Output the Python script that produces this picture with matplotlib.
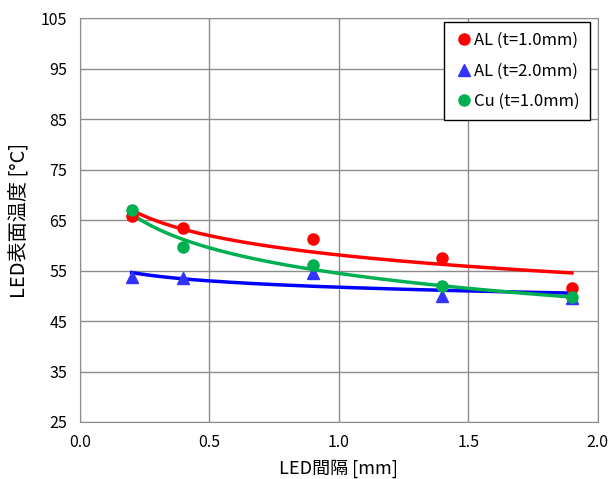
import numpy as np
import matplotlib
matplotlib.use('Agg')
import matplotlib.pyplot as plt

plt.rcParams['font.family'] = ['Noto Sans CJK JP', 'DejaVu Sans']

# LED間隔 [mm]
gap = [0.2, 0.4, 0.9, 1.4, 1.9]
# 表面温度 [°C]
al_10 = [65.8, 63.4, 61.3, 57.5, 51.6]
al_20 = [53.7, 53.6, 54.6, 50.0, 49.6]
cu_10 = [67.0, 59.6, 56.1, 51.9, 49.7]

series = [
    ('AL (t=1.0mm)', al_10, '#ff0000', 'o', '#ff0000'),
    ('AL (t=2.0mm)', al_20, '#3333ff', '^', '#0000ff'),
    ('Cu (t=1.0mm)', cu_10, '#00b050', 'o', '#00b050'),
]

fig = plt.figure(figsize=(6.1, 4.79), dpi=100)
ax = fig.add_axes([0.131, 0.119, 0.849, 0.843])

x = np.array(gap)
xs = np.linspace(x.min(), x.max(), 200)
for label, ys, mc, mk, lc in series:
    # excelっぽい対数近似線
    a, b = np.polyfit(np.log(x), np.array(ys), 1)
    ax.plot(xs, a * np.log(xs) + b, color=lc, lw=2.5, zorder=3)
for label, ys, mc, mk, lc in series:
    ax.plot(x, ys, linestyle='none', marker=mk, ms=8, color=mc,
            label=label, zorder=4)

ax.set_xlim(0, 2.0)
ax.set_ylim(25, 105)
ax.set_xticks(np.arange(0, 2.01, 0.5))
ax.set_yticks(np.arange(25, 106, 10))
ax.xaxis.set_major_formatter(matplotlib.ticker.FormatStrFormatter('%.1f'))
ax.grid(True, color='#8c8c8c', lw=1)
ax.set_axisbelow(True)
for s in ax.spines.values():
    s.set_color('#8c8c8c')
ax.tick_params(length=0, labelsize=11.5, pad=9)
ax.set_xlabel('LED間隔 [mm]', fontsize=13, labelpad=6)
ax.set_ylabel('LED表面温度 [°C]', fontsize=14.5, labelpad=8)

leg = ax.legend(loc='upper right', fontsize=12, fancybox=False, framealpha=1,
                edgecolor='black', handletextpad=0.1, handlelength=1.1,
                labelspacing=0.8, borderpad=0.6, borderaxespad=0,
                bbox_to_anchor=(0.985, 0.99))
leg.get_frame().set_linewidth(1)

fig.savefig('out.png', dpi=100)
